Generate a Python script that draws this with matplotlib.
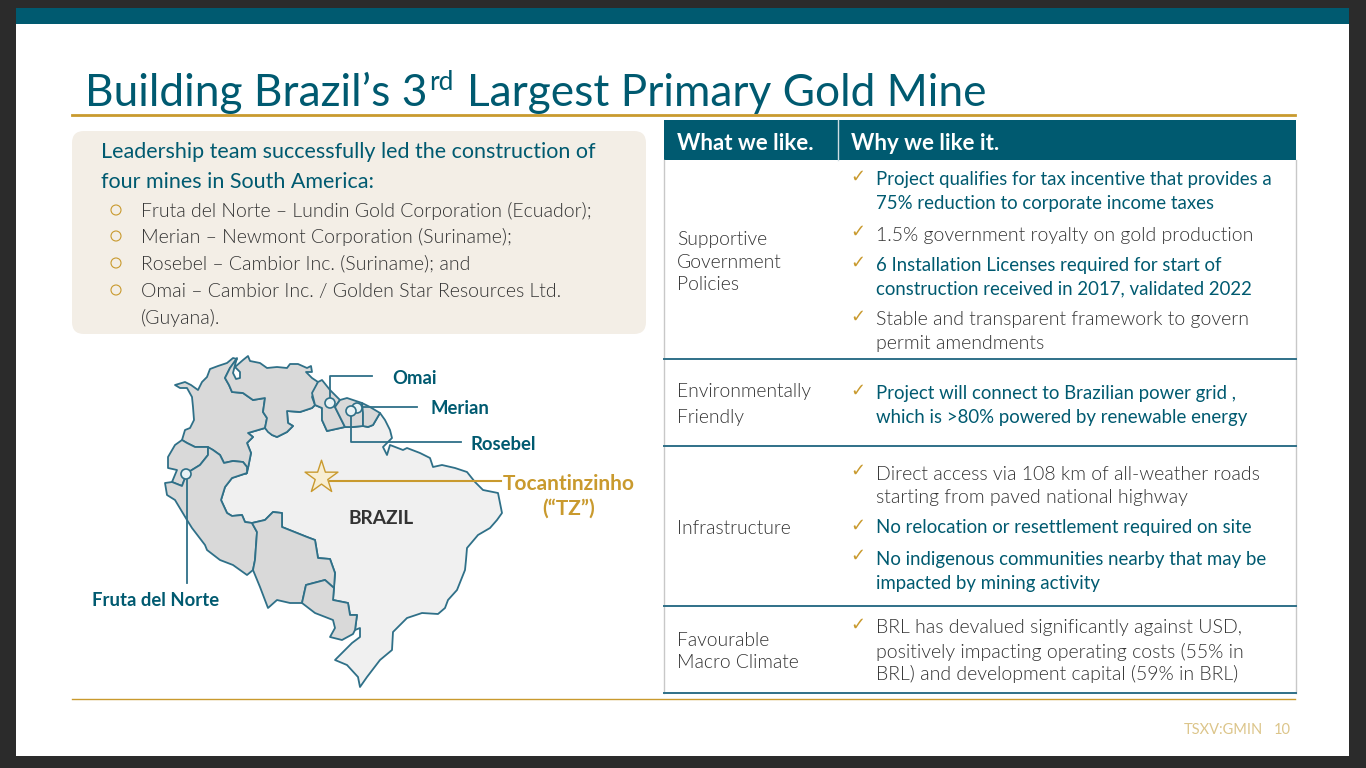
import matplotlib
matplotlib.use('Agg')
import matplotlib.pyplot as plt
from matplotlib.patches import Rectangle, FancyBboxPatch, Polygon, Circle

TEAL = '#005a70'
LINE = '#2f7088'
GOLD = '#c99a2e'
GREY = '#d9d9d9'
LIGHT = '#f0f0f0'
TEXT = '#333333'

# map outlines in pixels
brazil = [(380, 413), (385, 420), (390, 430), (392, 438), (383, 447), (387, 455), (390, 445), (403, 450),
          (407, 448), (420, 453), (430, 458), (433, 467), (442, 465), (455, 468), (467, 472), (475, 482),
          (483, 490), (498, 493), (502, 513), (497, 520), (490, 528), (478, 535), (467, 548), (466, 560),
          (465, 570), (461, 580), (457, 590), (448, 600), (445, 608), (438, 614), (422, 613), (407, 618),
          (393, 632), (392, 650), (380, 660), (367, 677), (360, 687), (358, 677), (347, 665), (335, 660),
          (345, 650), (352, 643), (360, 637), (360, 628), (355, 630), (357, 615), (350, 615), (348, 603),
          (333, 600), (335, 573), (330, 559), (318, 558), (315, 540), (307, 537), (282, 527), (282, 513),
          (273, 512), (265, 520), (252, 523), (245, 522), (242, 515), (232, 516), (227, 513), (221, 500),
          (225, 487), (232, 478), (247, 473), (251, 453), (247, 443), (253, 437), (248, 433), (265, 428),
          (272, 435), (277, 437), (287, 432), (293, 426), (288, 423), (287, 411), (300, 412), (312, 408),
          (315, 405), (322, 408), (322, 420), (327, 431), (345, 427), (353, 427), (363, 426), (368, 427),
          (373, 425)]
colombia = [(175, 385), (180, 388), (187, 388), (192, 397), (193, 407), (194, 420), (190, 428), (185, 430),
            (182, 440), (187, 443), (195, 447), (207, 447), (213, 450), (220, 455), (224, 463), (233, 461),
            (243, 462), (247, 467), (246, 474), (248, 468), (251, 453), (247, 443), (253, 437), (248, 433),
            (265, 428), (267, 418), (263, 412), (265, 398), (253, 400), (243, 393), (232, 392), (229, 385),
            (225, 378), (230, 368), (237, 359), (233, 358), (227, 363), (218, 366), (210, 369), (207, 377),
            (202, 382), (198, 390), (191, 385), (185, 382)]
venezuela = [(237, 358), (235, 365), (233, 373), (236, 379), (240, 378), (240, 372), (235, 367), (243, 360),
             (248, 356), (250, 361), (260, 363), (267, 368), (277, 367), (287, 368), (290, 364), (298, 364),
             (307, 368), (311, 366), (312, 372), (306, 372), (312, 378), (318, 382), (315, 390), (312, 397),
             (315, 405), (312, 408), (300, 412), (287, 411), (288, 423), (293, 426), (287, 432), (277, 437),
             (272, 435), (268, 432), (265, 428), (267, 418), (263, 412), (265, 398), (253, 400), (243, 393),
             (232, 392), (229, 385), (225, 378), (230, 368)]
guyana = [(312, 393), (318, 382), (322, 380), (330, 390), (340, 400), (335, 407), (340, 417), (345, 427),
          (327, 431), (322, 420), (322, 408), (315, 405)]
suriname = [(340, 400), (347, 398), (362, 403), (363, 413), (363, 426), (353, 427), (345, 427), (340, 417),
            (335, 407)]
guiana = [(362, 403), (370, 407), (380, 413), (373, 425), (368, 427), (363, 426), (363, 413)]
ecuador = [(182, 440), (187, 443), (195, 447), (208, 447), (208, 455), (200, 465), (187, 473), (182, 486),
           (172, 482), (177, 470), (168, 468), (168, 457), (175, 445)]
peru = [(208, 447), (213, 450), (220, 455), (224, 463), (233, 461), (243, 462), (247, 467), (247, 473),
        (232, 478), (225, 487), (221, 500), (227, 513), (232, 516), (242, 515), (245, 522), (252, 523),
        (257, 532), (255, 560), (253, 570), (247, 575), (233, 565), (220, 560), (207, 550), (205, 545),
        (192, 528), (187, 520), (175, 500), (167, 495), (165, 483), (172, 482), (182, 486), (187, 473),
        (200, 465), (208, 455)]
bolivia = [(252, 523), (265, 520), (273, 512), (282, 513), (282, 527), (307, 537), (315, 540), (318, 558),
           (330, 559), (335, 573), (334, 588), (325, 580), (306, 585), (302, 603), (290, 603), (277, 600),
           (268, 608), (260, 587), (253, 570), (255, 560), (257, 532)]
paraguay = [(334, 588), (325, 580), (306, 585), (302, 603), (315, 613), (333, 620), (335, 628), (330, 637),
            (342, 640), (353, 634), (355, 630), (357, 615), (350, 615), (348, 603), (333, 600)]
grey_countries = [colombia, venezuela, guyana, suriname, guiana, ecuador, peru, bolivia, paraguay]

mine_points = [(330, 403), (357, 408), (351, 411), (186, 474)]
star_point = (321, 477)
mine_leaders = [[(330, 403), (330, 376), (372, 376)],
                [(362, 407), (417, 407)],
                [(351, 415), (351, 442), (461, 442)],
                [(187, 480), (187, 583)]]
mine_labels = [('Omai', 392, 378), ('Merian', 430, 408), ('Rosebel', 471, 444), ('Fruta del Norte', 92, 601)]

mines_heading = ['Leadership team successfully led the construction of', 'four mines in South America:']
mines_list = ['Fruta del Norte – Lundin Gold Corporation (Ecuador);',
              'Merian – Newmont Corporation (Suriname);',
              'Rosebel – Cambior Inc. (Suriname); and',
              'Omai – Cambior Inc. / Golden Star Resources Ltd.']
mines_y = [210, 236, 263, 290]

row_lines = [359, 446, 606, 693]
row_names = [('Supportive', 239), ('Government', 262), ('Policies', 284),
             ('Environmentally', 392), ('Friendly', 417),
             ('Infrastructure', 528),
             ('Favourable', 640), ('Macro Climate', 662)]
# text, y, emphasised
reasons = [('Project qualifies for tax incentive that provides a', 180, True),
           ('75% reduction to corporate income taxes', 204, True),
           ('1.5% government royalty on gold production', 235, False),
           ('6 Installation Licenses required for start of', 265, True),
           ('construction received in 2017, validated 2022', 289, True),
           ('Stable and transparent framework to govern', 319, False),
           ('permit amendments', 343, False),
           ('Project will connect to Brazilian power grid ,', 393, True),
           ('which is >80% powered by renewable energy', 417, True),
           ('Direct access via 108 km of all-weather roads', 474, False),
           ('starting from paved national highway', 498, False),
           ('No relocation or resettlement required on site', 528, True),
           ('No indigenous communities nearby that may be', 559, True),
           ('impacted by mining activity', 583, True),
           ('BRL has devalued significantly against USD,', 627, False),
           ('positively impacting operating costs (55% in', 652, False),
           ('BRL) and development capital (59% in BRL)', 674, False)]
check_y = [177, 232, 263, 317, 391, 471, 526, 556, 625]

plt.rcParams['font.family'] = ['Lato', 'DejaVu Sans']

fig = plt.figure(figsize=(13.66, 7.68), dpi=100, facecolor='#2b2b2b')
ax = fig.add_axes([0, 0, 1, 1])
ax.set_xlim(0, 1366)
ax.set_ylim(768, 0)
ax.axis('off')

# slide
ax.add_patch(Rectangle((16, 8), 1333, 748, fc='white', ec='none'))
ax.add_patch(Rectangle((16, 8), 1333, 16, fc=TEAL, ec='none'))
ax.text(85, 93, 'Building Brazil’s 3', fontsize=31.9, color=TEAL, va='center')
ax.text(429, 83, 'rd', fontsize=19, color=TEAL, va='center')
ax.text(467, 93, 'Largest Primary Gold Mine', fontsize=31.9, color=TEAL, va='center')
ax.plot([72, 1295], [115, 115], color=GOLD, lw=2)
ax.plot([72, 1295], [699, 699], color=GOLD, lw=1)
ax.text(1184, 730, 'TSXV:GMIN', fontsize=10.5, color='#dcc58a', va='center')
ax.text(1274, 730, '10', fontsize=10.5, color='#dcc58a', va='center')

# left box
ax.add_patch(FancyBboxPatch((72, 131), 574, 203, boxstyle='round,pad=0,rounding_size=12', fc='#f3eee6', ec='none'))
ax.text(101, 152, mines_heading[0], fontsize=15.5, color=TEAL, va='center')
ax.text(101, 182, mines_heading[1], fontsize=15.5, color=TEAL, va='center')
for label, y in zip(mines_list, mines_y):
    ax.add_patch(Circle((116, y), 5, fc='none', ec=GOLD, lw=0.8))
    ax.text(141, y + 1, label, fontsize=14, color=TEXT, va='center', fontweight=300)
ax.text(141, 318, '(Guyana).', fontsize=14, color=TEXT, va='center', fontweight=300)

# map
ax.add_patch(Polygon(brazil, closed=True, fc=LIGHT, ec=LINE, lw=1.3, joinstyle='round'))
for country in grey_countries:
    ax.add_patch(Polygon(country, closed=True, fc=GREY, ec=LINE, lw=1.3, joinstyle='round'))
ax.text(381, 518, 'BRAZIL', fontsize=13.8, color='#333333', fontweight='bold', ha='center', va='center')
for leader in mine_leaders:
    ax.plot(*zip(*leader), color=LINE, lw=1.3)
for point in mine_points:
    ax.add_patch(Circle(point, 5, fc='#e8f2f5', ec=LINE, lw=1.2, zorder=3))
ax.plot([330, 501], [481, 481], color=GOLD, lw=1.5)
ax.scatter(*star_point, marker='*', s=620, fc='#f8eed2', ec=GOLD, lw=1, zorder=3)
for label, x, y in mine_labels:
    ax.text(x, y, label, fontsize=13.3, color=TEAL, fontweight='bold', va='center')
ax.text(569, 484, 'Tocantinzinho', fontsize=15, color=GOLD, fontweight='bold', ha='center', va='center')
ax.text(569, 509, '(“TZ”)', fontsize=15, color=GOLD, fontweight='bold', ha='center', va='center')

# table
ax.add_patch(Rectangle((664, 120), 632, 40, fc=TEAL, ec='none'))
ax.plot([837.5, 837.5], [120, 160], color='#cfdde2', lw=1)
ax.plot([664, 664], [160, 693], color='#c8c8c8', lw=1)
ax.plot([1296, 1296], [160, 693], color='#c8c8c8', lw=1)
ax.text(677, 143, 'What we like.', fontsize=16, color='white', fontweight='bold', va='center')
ax.text(851, 143, 'Why we like it.', fontsize=16, color='white', fontweight='bold', va='center')
for y in row_lines:
    ax.plot([664, 1296], [y, y], color=LINE, lw=1.4)
for label, y in row_names:
    ax.text(677, y, label, fontsize=13.9, color=TEXT, va='center', fontweight=300)
for y in check_y:
    ax.text(858, y, '✓', fontsize=13, color=GOLD, ha='center', va='center', family='DejaVu Sans')
for label, y, strong in reasons:
    if strong:
        ax.text(876, y, label, fontsize=13.4, color=TEAL, va='center')
    else:
        ax.text(876, y, label, fontsize=14, color=TEXT, va='center', fontweight=300)

fig.savefig('out.png', dpi=100, facecolor=fig.get_facecolor())
